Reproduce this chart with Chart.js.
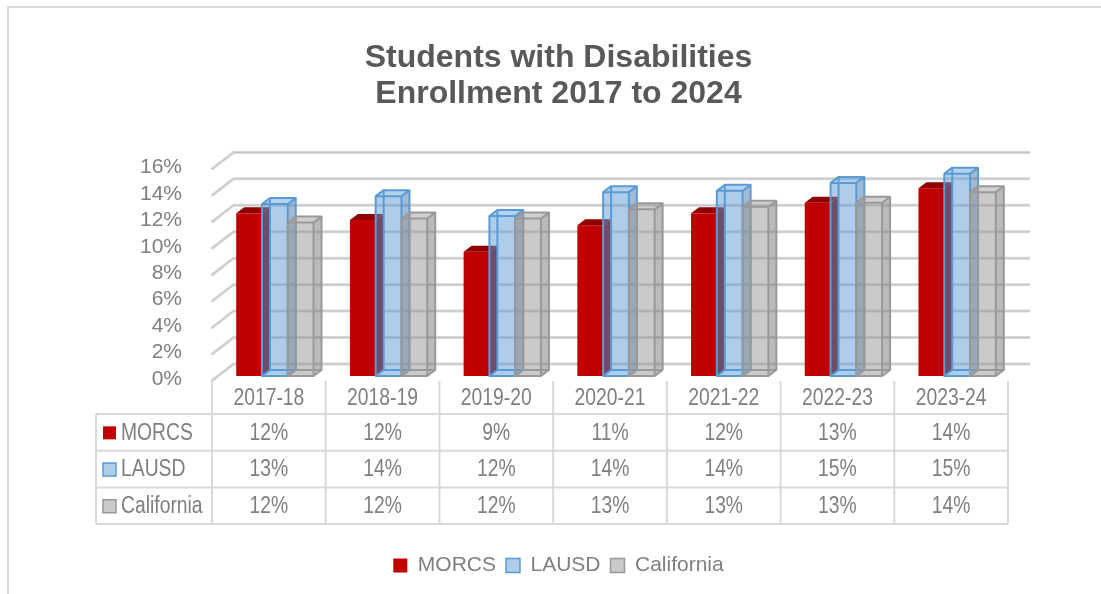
<!DOCTYPE html>
<html>
<head>
<meta charset="utf-8">
<script src="https://cdn.jsdelivr.net/npm/chart.js@4.4.0/dist/chart.umd.min.js"></script>
<style>
  html, body { margin: 0; padding: 0; background: #fff; }
</style>
</head>
<body>
<canvas id="grafico" width="1101" height="594"></canvas>
<script>
// datos
const years = ["2017-18", "2018-19", "2019-20", "2020-21", "2021-22", "2022-23", "2023-24"]
const morcs = [12.3, 11.8, 9.4, 11.4, 12.3, 13.1, 14.2]
const lausd = [13.0, 13.6, 12.1, 13.9, 14.0, 14.6, 15.3]
const california = [11.6, 11.9, 11.9, 12.6, 12.8, 13.1, 13.9]
const yMax = 16
const yStep = 2

const fuente = "'Liberation Sans Narrow', 'Arial Narrow', 'Liberation Sans', sans-serif"
const gris = '#7f7f7f'

// estilos de cada serie (caras frontal, lateral y superior)
const estilos = [
    {front: '#c00000', side: '#7d0000', top: '#900000', line: null},
    {front: 'rgba(91,155,213,0.5)', side: 'rgba(70,120,170,0.5)', top: 'rgba(91,155,213,0.45)', line: '#5b9bd5'},
    {front: 'rgba(150,150,150,0.5)', side: 'rgba(120,120,120,0.5)', top: 'rgba(150,150,150,0.45)', line: '#999999'}
]
const DX = 8, DY = -6

// texto "angosto": no hay fuente narrow, se escala en x
function texto(ctx, s, x, y, align){
    ctx.save()
    ctx.translate(x, y)
    ctx.scale(0.84, 1)
    ctx.textAlign = align
    ctx.fillText(s, 0, 0)
    ctx.restore()
}

function caja(ctx, bar, st){
    const l = bar.x - bar.width / 2, r = bar.x + bar.width / 2
    const t = bar.y, b = bar.base
    ctx.save()
    // lateral
    ctx.fillStyle = st.side
    ctx.beginPath()
    ctx.moveTo(r, t); ctx.lineTo(r + DX, t + DY); ctx.lineTo(r + DX, b + DY); ctx.lineTo(r, b)
    ctx.closePath(); ctx.fill()
    // frente
    ctx.fillStyle = st.front
    ctx.fillRect(l, t, r - l, b - t)
    // arriba
    ctx.fillStyle = st.top
    ctx.beginPath()
    ctx.moveTo(l, t); ctx.lineTo(l + DX, t + DY); ctx.lineTo(r + DX, t + DY); ctx.lineTo(r, t)
    ctx.closePath(); ctx.fill()
    if (st.line){
        ctx.strokeStyle = st.line
        ctx.lineWidth = 2
        ctx.lineJoin = 'round'
        ctx.beginPath()
        ctx.rect(l, t, r - l, b - t)
        ctx.moveTo(l, t); ctx.lineTo(l + DX, t + DY); ctx.lineTo(r + DX, t + DY); ctx.lineTo(r, t)
        ctx.moveTo(r + DX, t + DY); ctx.lineTo(r + DX, b + DY); ctx.lineTo(r, b)
        // aristas de atras
        ctx.moveTo(l + DX, t + DY); ctx.lineTo(l + DX, b + DY); ctx.lineTo(r + DX, b + DY)
        ctx.moveTo(l, b); ctx.lineTo(l + DX, b + DY)
        ctx.stroke()
    }
    ctx.restore()
}

const fondo = {
    id: 'fondo',
    beforeDraw(chart){
        const ctx = chart.ctx
        ctx.save()
        ctx.fillStyle = '#fff'
        ctx.fillRect(0, 0, chart.width, chart.height)
        ctx.fillStyle = '#d9d9d9'
        ctx.fillRect(7, 6, chart.width - 7, 2)
        ctx.fillRect(7, 6, 2, chart.height - 6)
        ctx.restore()
    }
}

const barras3d = {
    id: 'barras3d',
    beforeDatasetsDraw(chart){
        const ctx = chart.ctx
        const ys = chart.scales.y
        const area = chart.chartArea
        ctx.save()
        // paredes: linea diagonal + linea de fondo
        ys.ticks.forEach(tk => {
            const y = ys.getPixelForValue(tk.value)
            ctx.beginPath()
            ctx.moveTo(area.left - 6.5, y + 5)
            ctx.lineTo(area.left + 15.5, y - 12)
            ctx.lineTo(area.right + 16, y - 12)
            ctx.strokeStyle = '#d9d9d9'
            ctx.lineWidth = 3
            ctx.stroke()
            ctx.strokeStyle = '#c4c4c4'
            ctx.lineWidth = 1
            ctx.stroke()
        })
        ctx.restore()
        chart.data.datasets.forEach((ds, i) => {
            chart.getDatasetMeta(i).data.forEach(bar => caja(ctx, bar, estilos[i]))
        })
        return false
    }
}

const tabla = {
    id: 'tabla',
    afterDraw(chart){
        const ctx = chart.ctx
        const xs = chart.scales.x
        const base = chart.scales.y.bottom
        const slot = (xs.right - xs.left) / years.length
        const x0 = xs.left - 6
        const left = x0 - 116
        const top = base + 5
        const rowH = 36.7
        const headB = base + 38
        const bottom = headB + rowH * 3
        ctx.save()
        ctx.strokeStyle = '#d9d9d9'
        ctx.lineWidth = 2
        ctx.beginPath()
        for (let k = 0; k <= years.length; k++){
            ctx.moveTo(x0 + k * slot, top); ctx.lineTo(x0 + k * slot, bottom)
        }
        for (let r = 0; r <= 3; r++){
            ctx.moveTo(left, headB + r * rowH); ctx.lineTo(x0 + years.length * slot, headB + r * rowH)
        }
        ctx.moveTo(left, headB); ctx.lineTo(left, bottom)
        ctx.stroke()

        ctx.font = '23px ' + fuente
        ctx.fillStyle = gris
        ctx.textBaseline = 'middle'
        years.forEach((y, k) => texto(ctx, y, x0 + (k + 0.5) * slot, base + 23, 'center'))
        chart.data.datasets.forEach((ds, i) => {
            const cy = headB + (i + 0.5) * rowH + 1
            ds.data.forEach((v, k) => {
                ctx.fillStyle = gris
                texto(ctx, Math.round(v) + '%', x0 + (k + 0.5) * slot, cy, 'center')
            })
            // llave de la serie
            const st = estilos[i]
            ctx.fillStyle = '#fff'
            ctx.fillRect(left + 7, cy - 7, 13, 13)
            ctx.fillStyle = st.front
            ctx.fillRect(left + 7, cy - 7, 13, 13)
            if (st.line){
                ctx.strokeStyle = st.line
                ctx.lineWidth = 1.5
                ctx.strokeRect(left + 7, cy - 7, 13, 13)
            }
            ctx.fillStyle = gris
            texto(ctx, ds.label, left + 25, cy, 'left')
        })
        ctx.restore()
    }
}

function crearGrafico(){
    const g = document.getElementById('grafico').getContext('2d')
    new Chart(g, {
        type: 'bar',
        data: {
            labels: years,
            datasets: [
                {label: 'MORCS', data: morcs, backgroundColor: estilos[0].front, borderColor: estilos[0].front, borderWidth: 0},
                {label: 'LAUSD', data: lausd, backgroundColor: estilos[1].front, borderColor: estilos[1].line, borderWidth: 1.5},
                {label: 'California', data: california, backgroundColor: estilos[2].front, borderColor: estilos[2].line, borderWidth: 1.5}
            ]
        },
        options: {
            responsive: false,
            maintainAspectRatio: false,
            animation: false,
            devicePixelRatio: 1,
            layout: {padding: {left: 16, right: 0, top: 0, bottom: 8}},
            datasets: {bar: {categoryPercentage: 0.68, barPercentage: 1.0}},
            plugins: {
                tooltip: {enabled: false},
                title: {
                    display: true,
                    text: ['Students with Disabilities', 'Enrollment 2017 to 2024'],
                    color: '#595959',
                    font: {family: fuente, size: 32, weight: 'bold', lineHeight: 1.1},
                    padding: {top: 41, bottom: 53}
                },
                legend: {
                    position: 'bottom',
                    labels: {
                        color: gris,
                        font: {family: fuente, size: 21},
                        boxWidth: 14,
                        boxHeight: 14,
                        padding: 10
                    }
                }
            },
            scales: {
                x: {
                    display: true,
                    grid: {display: false},
                    border: {display: false},
                    ticks: {display: false},
                    afterFit: s => { s.height = 169 }
                },
                y: {
                    min: 0,
                    max: yMax,
                    grid: {display: false},
                    border: {display: false},
                    ticks: {
                        stepSize: yStep,
                        autoSkip: false,
                        color: gris,
                        font: {family: fuente, size: 21},
                        padding: 28,
                        labelOffset: 3,
                        callback: v => v + '%'
                    },
                    afterFit: s => { s.width = 202 }
                },
                y2: {
                    position: 'right',
                    display: true,
                    grid: {display: false},
                    border: {display: false},
                    ticks: {display: false},
                    afterFit: s => { s.width = 87 }
                }
            }
        },
        plugins: [fondo, barras3d, tabla]
    })
}
document.addEventListener('DOMContentLoaded', crearGrafico)
</script>
</body>
</html>
